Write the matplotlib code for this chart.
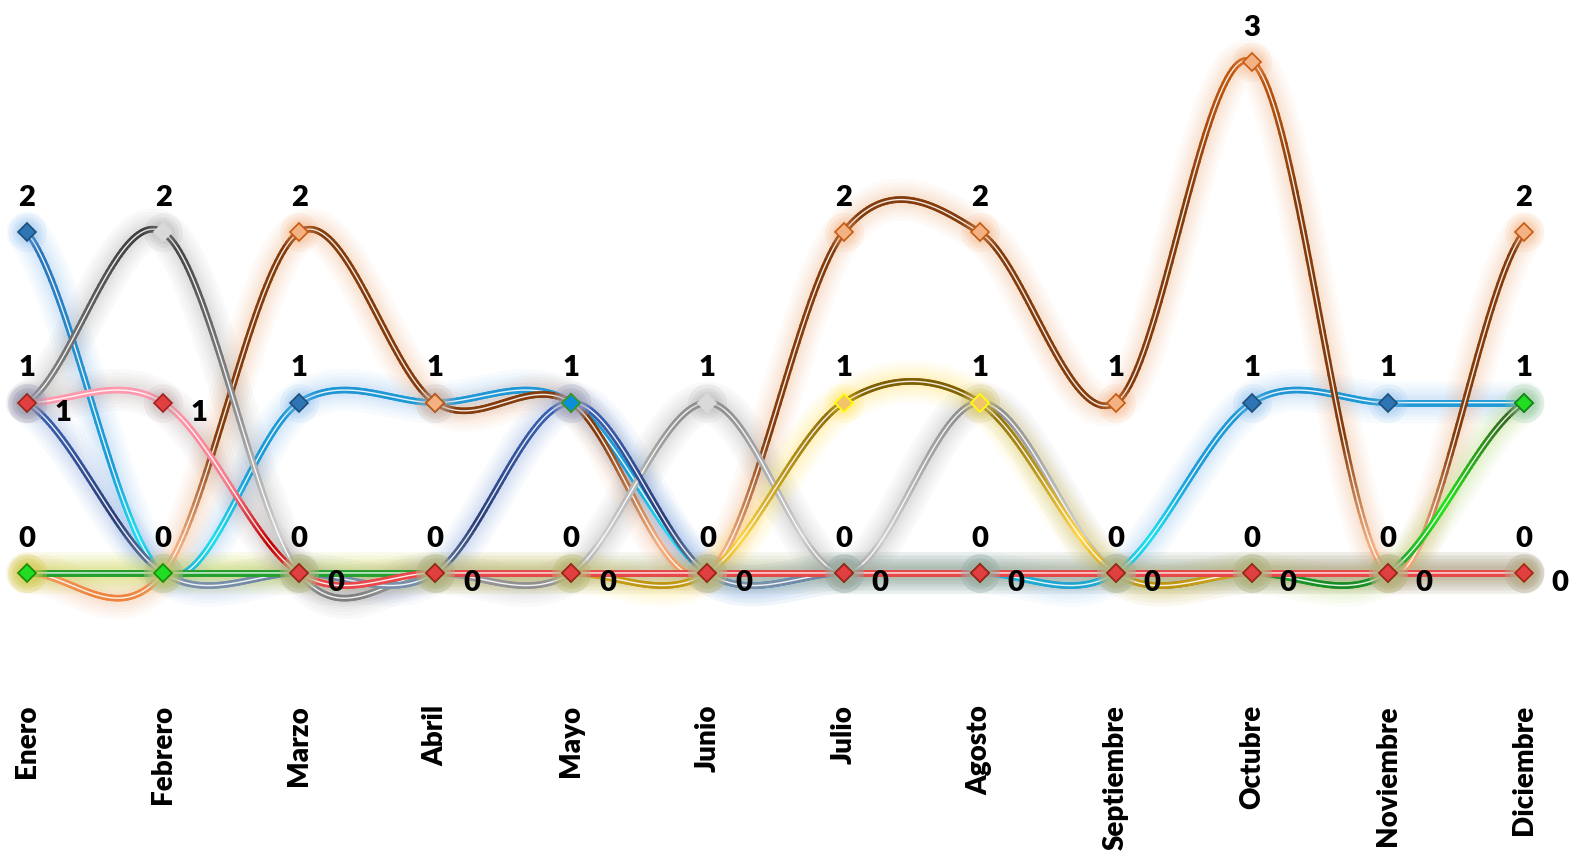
import numpy as np
import matplotlib
matplotlib.use('Agg')
import matplotlib.pyplot as plt
from matplotlib import font_manager
from matplotlib.collections import LineCollection
from matplotlib.colors import LinearSegmentedColormap

# ----------------------------------------------------------------------------------------------------------------------

meses = ['Enero', 'Febrero', 'Marzo', 'Abril', 'Mayo', 'Junio', 'Julio', 'Agosto',
         'Septiembre', 'Octubre', 'Noviembre', 'Diciembre']

celeste = [2, 0, 1, 1, 1, 0, 0, 0, 0, 1, 1, 1]
naranja = [0, 0, 2, 1, 1, 0, 2, 2, 1, 3, 0, 2]
gris = [1, 2, 0, 0, 0, 1, 0, 1, 0, 0, 0, 0]
azul = [1, 0, 0, 0, 1, 0, 0, 0, 0, 0, 0, 0]
oliva = [0, 0, 0, 0, 0, 0, 1, 1, 0, 0, 0, 0]
verde = [0, 0, 0, 0, 0, 0, 0, 0, 0, 0, 0, 1]
rojo = [1, 1, 0, 0, 0, 0, 0, 0, 0, 0, 0, 0]

# estilo de cada serie: gradiente vertical (valor, color), brillo, marcador
estilos = [
    (celeste, [(-0.1, '#1FA0CC'), (0.2, '#1EE0EE'), (0.6, '#1C9CD8'), (1.0, '#1F9AD6'), (2.0, '#2E6FB6')],
     '#7FB8EE', '#2E75B6', '#1F4E79'),
    (naranja, [(-0.2, '#ED7D31'), (0.15, '#F4B183'), (0.8, '#843C0C'), (2.2, '#843C0C'), (3.0, '#C55A11')],
     '#F8A870', '#F4B183', '#C55A11'),
    (gris, [(-0.15, '#7F7F7F'), (0.2, '#D0D0D0'), (1.0, '#8C8C8C'), (2.0, '#3F3F3F')],
     '#A0A0A0', '#D9D9D9', '#D9D9D9'),
    (azul, [(-0.1, '#7F97AE'), (0.3, '#2B3F7A'), (1.0, '#3B63B5')],
     '#7F9FE0', '#0B8FD8', '#2CA02C'),
    (oliva, [(-0.1, '#B8900C'), (0.2, '#FFD54A'), (0.6, '#B8961E'), (1.1, '#7F6000')],
     '#FFE040', '#F2C46A', '#FFFF00'),
    (verde, [(-0.15, '#0E7A1A'), (0.0, '#22A030'), (0.4, '#22E51A'), (1.0, '#3A5A20')],
     '#A8D860', '#22DD22', '#138A13'),
    (rojo, [(0.0, '#E8484A'), (0.15, '#C00000'), (0.5, '#F47C8C'), (1.0, '#FF9AAE')],
     '#B09898', '#E04040', '#A52020'),
]


def fuente_negrita(familias):
    for fam in familias:
        for f in font_manager.fontManager.ttflist:
            if f.name == fam and f.weight in (700, 'bold') and f.style == 'normal':
                return fam
    return 'DejaVu Sans'


def suavizar(vals, n=50):
    v = np.asarray(vals, float)
    m = np.zeros(len(v))
    m[1:-1] = (v[2:] - v[:-2]) / 2
    m[0] = (v[1] - v[0]) / 2
    m[-1] = (v[-1] - v[-2]) / 2
    t = np.linspace(0, 1, n, endpoint=False)
    h00 = 2*t**3 - 3*t**2 + 1
    h10 = t**3 - 2*t**2 + t
    h01 = -2*t**3 + 3*t**2
    h11 = t**3 - t**2
    xs, ys = [], []
    for i in range(len(v) - 1):
        xs.append(i + t)
        ys.append(h00*v[i] + h10*m[i] + h01*v[i+1] + h11*m[i+1])
    xs.append([len(v) - 1])
    ys.append([v[-1]])
    return np.concatenate(xs), np.concatenate(ys)


def linea_gradiente(ax, x, y, stops, lw, z):
    lo, hi = stops[0][0], stops[-1][0]
    cmap = LinearSegmentedColormap.from_list('g', [((s - lo) / (hi - lo), c) for s, c in stops])
    pts = np.column_stack([x, y]).reshape(-1, 1, 2)
    segs = np.concatenate([pts[:-1], pts[1:]], axis=1)
    ym = (y[:-1] + y[1:]) / 2
    colors = cmap(np.clip((ym - lo) / (hi - lo), 0, 1))
    lc = LineCollection(segs, colors=colors, linewidths=lw, capstyle='round', joinstyle='round', zorder=z)
    lc.set_clip_on(False)
    ax.add_collection(lc)

# ----------------------------------------------------------------------------------------------------------------------

fam = fuente_negrita(['Lato', 'Roboto', 'Open Sans', 'Noto Sans'])
plt.rcParams['font.family'] = [fam, 'DejaVu Sans']

fig = plt.figure(figsize=(15.83, 8.55), dpi=100, facecolor='white')
ax = fig.add_axes([27/1583, 0.2502, (1524-27)/1583, 0.7171])
ax.set_xlim(0, 11)
ax.set_ylim(-0.4, 3.2)

for k, (vals, stops, brillo, relleno, borde) in enumerate(estilos):
    x, y = suavizar(vals)
    for w in [30, 25, 20, 16, 12, 9]:
        ax.plot(x, y, color=brillo, lw=w, alpha=0.055, solid_capstyle='round', zorder=1 + k*0.01, clip_on=False)
    linea_gradiente(ax, x, y, stops, 4.8, 2 + k*0.01)
    ax.plot(x, y, color='white', lw=1.0, alpha=0.9, zorder=2.005 + k*0.01, clip_on=False)
    xi = np.arange(len(vals))
    for s in [28, 22, 17]:
        ax.plot(xi, vals, 'o', ms=s, color=brillo, alpha=0.12, mec='none', zorder=2.9 + k*0.01, clip_on=False)
    ax.plot(xi, vals, 'D', ms=9, mfc=relleno, mec=borde, mew=1.2, zorder=3 + k*0.01, clip_on=False)

# etiquetas de datos
vistas = set()
for vals, *_ in estilos[:-1]:
    for i, v in enumerate(vals):
        if (i, v) in vistas:
            continue
        vistas.add((i, v))
        ax.annotate(str(v), (i, v), xytext=(0, 19), textcoords='offset points', ha='center', va='baseline',
                    fontsize=21, fontweight='heavy', zorder=10, annotation_clip=False)
for i, v in enumerate(rojo):
    ax.annotate(str(v), (i, v), xytext=(20, -13), textcoords='offset points', ha='left', va='baseline',
                fontsize=21, fontweight='heavy', zorder=10, annotation_clip=False)

ax.set_xticks(range(len(meses)))
ax.set_xticklabels(meses, rotation=90, fontsize=20, fontweight='heavy', va='top', ha='center')
ax.tick_params(axis='x', length=0, pad=46)
ax.set_yticks([])
for s in ax.spines.values():
    s.set_visible(False)

fig.savefig('out.png', dpi=100, facecolor='white')
